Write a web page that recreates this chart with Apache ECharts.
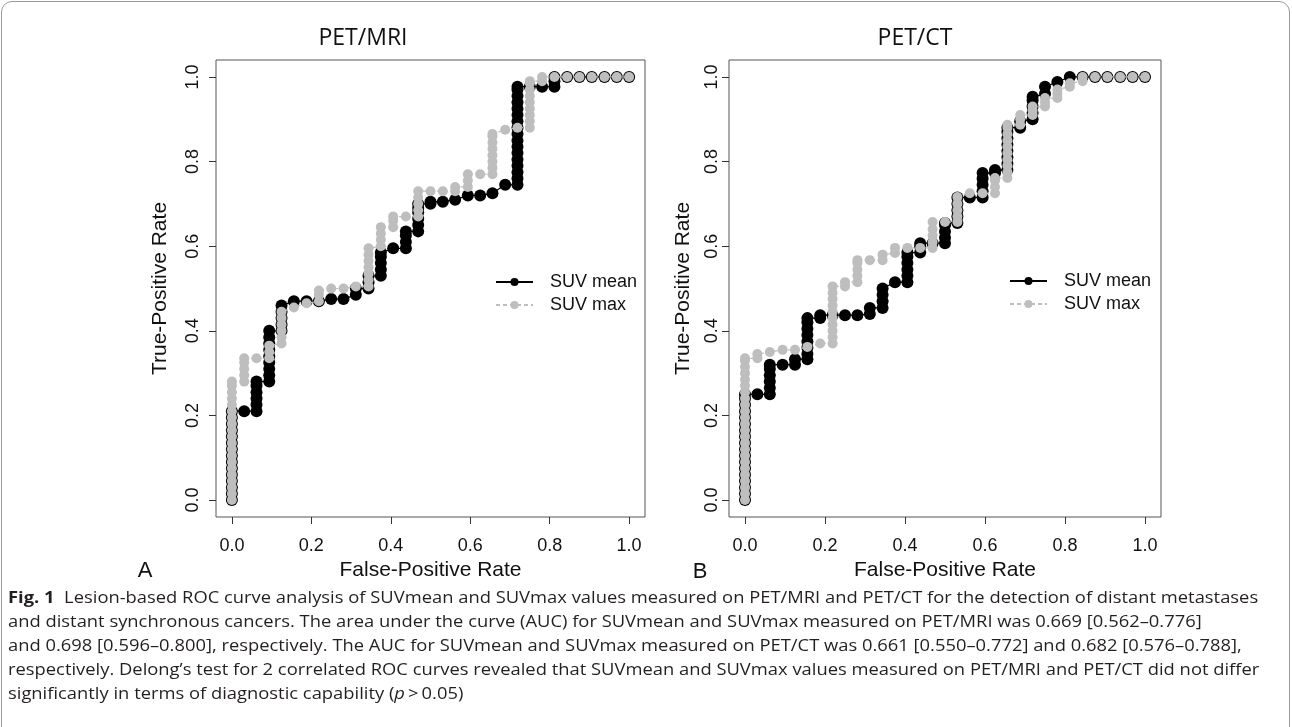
<!DOCTYPE html>
<html>
<head>
<meta charset="utf-8">
<script src="https://cdn.jsdelivr.net/npm/echarts@6.0.0/dist/echarts.min.js"></script>
<style>
html,body{margin:0;padding:0;background:#fff;}
#wrap{position:relative;width:1292px;height:727px;overflow:hidden;background:#fff;}
#chart{position:absolute;left:0;top:0;width:1292px;height:727px;}
#frame{position:absolute;left:1px;top:1px;width:1289px;height:740px;box-sizing:border-box;border:1px solid #9a9a9a;border-radius:11px;pointer-events:none;}
.cap{position:absolute;left:8px;white-space:nowrap;font-family:"Open Sans","Noto Sans",sans-serif;font-size:15.5px;line-height:24px;color:#231f20;transform-origin:0 50%;}
.cap b{font-weight:bold;}
</style>
</head>
<body>
<div id="wrap">
<div id="chart"></div>
<div id="frame"></div>
<div class="cap" id="l1" style="top:585px"><b>Fig. 1</b>&nbsp;&nbsp;Lesion-based ROC curve analysis of SUVmean and SUVmax values measured on PET/MRI and PET/CT for the detection of distant metastases</div>
<div class="cap" id="l2" style="top:609px">and distant synchronous cancers. The area under the curve (AUC) for SUVmean and SUVmax measured on PET/MRI was 0.669 [0.562–0.776]</div>
<div class="cap" id="l3" style="top:633px">and 0.698 [0.596–0.800], respectively. The AUC for SUVmean and SUVmax measured on PET/CT was 0.661 [0.550–0.772] and 0.682 [0.576–0.788],</div>
<div class="cap" id="l4" style="top:657px">respectively. Delong’s test for 2 correlated ROC curves revealed that SUVmean and SUVmax values measured on PET/MRI and PET/CT did not differ</div>
<div class="cap" id="l5" style="top:681px">significantly in terms of diagnostic capability (<i>p</i>&thinsp;&gt;&thinsp;0.05)</div>
</div>
<script>
// ---- Data: [false-positive rate, true-positive rate] ----
const tickValues = [0, 0.2, 0.4, 0.6, 0.8, 1.0];
const legendNames = ['SUV mean', 'SUV max'];
const panelTitles = ['PET/MRI', 'PET/CT'];
const panelLetters = ['A', 'B'];

const pmriMean = [
[0,0],[0,0.015],[0,0.03],[0,0.045],[0,0.06],[0,0.075],[0,0.09],[0,0.105],[0,0.12],[0,0.135],[0,0.15],[0,0.165],[0,0.18],[0,0.195],[0,0.21],
[0.031,0.21],
[0.062,0.21],[0.062,0.225],[0.062,0.24],[0.062,0.255],[0.062,0.27],[0.062,0.28],
[0.094,0.28],[0.094,0.295],[0.094,0.31],[0.094,0.325],[0.094,0.34],[0.094,0.355],[0.094,0.37],[0.094,0.385],[0.094,0.40],
[0.125,0.40],[0.125,0.415],[0.125,0.43],[0.125,0.445],[0.125,0.46],
[0.156,0.47],[0.188,0.47],[0.219,0.47],[0.25,0.475],[0.281,0.475],
[0.312,0.485],[0.312,0.50],
[0.344,0.50],[0.344,0.515],[0.344,0.53],
[0.375,0.53],[0.375,0.545],[0.375,0.56],[0.375,0.575],[0.375,0.585],
[0.406,0.595],
[0.438,0.595],[0.438,0.61],[0.438,0.625],[0.438,0.635],
[0.469,0.635],[0.469,0.65],[0.469,0.665],[0.469,0.68],[0.469,0.69],[0.469,0.70],
[0.5,0.70],[0.5,0.705],[0.531,0.705],[0.562,0.71],[0.594,0.72],[0.625,0.72],[0.656,0.725],[0.688,0.745],
[0.719,0.745],[0.719,0.76],[0.719,0.775],[0.719,0.79],[0.719,0.805],[0.719,0.82],[0.719,0.835],[0.719,0.85],[0.719,0.865],[0.719,0.88],[0.719,0.895],[0.719,0.91],[0.719,0.925],[0.719,0.94],[0.719,0.955],[0.719,0.97],[0.719,0.977],
[0.75,0.977],[0.781,0.977],
[0.812,0.977],[0.812,0.99],[0.812,1],
[0.844,1],[0.875,1],[0.906,1],[0.938,1],[0.969,1],[1,1]
];

const pmriMax = [
[0,0],[0,0.015],[0,0.03],[0,0.045],[0,0.06],[0,0.075],[0,0.09],[0,0.105],[0,0.12],[0,0.135],[0,0.15],[0,0.165],[0,0.18],[0,0.195],[0,0.21],[0,0.225],[0,0.24],[0,0.255],[0,0.27],[0,0.28],
[0.031,0.28],[0.031,0.295],[0.031,0.31],[0.031,0.325],[0.031,0.335],
[0.062,0.335],
[0.094,0.335],[0.094,0.35],[0.094,0.365],
[0.125,0.37],[0.125,0.385],[0.125,0.40],[0.125,0.415],[0.125,0.43],[0.125,0.445],
[0.156,0.455],[0.188,0.465],
[0.219,0.47],[0.219,0.485],[0.219,0.495],
[0.25,0.50],[0.281,0.50],[0.312,0.505],
[0.344,0.505],[0.344,0.52],[0.344,0.535],[0.344,0.55],[0.344,0.565],[0.344,0.58],[0.344,0.595],
[0.375,0.60],[0.375,0.615],[0.375,0.63],[0.375,0.645],
[0.406,0.645],[0.406,0.66],[0.406,0.67],
[0.438,0.67],
[0.469,0.67],[0.469,0.685],[0.469,0.70],[0.469,0.715],[0.469,0.73],
[0.5,0.73],[0.531,0.73],
[0.562,0.73],[0.562,0.74],
[0.594,0.74],[0.594,0.755],[0.594,0.77],
[0.625,0.77],
[0.656,0.77],[0.656,0.785],[0.656,0.80],[0.656,0.815],[0.656,0.83],[0.656,0.845],[0.656,0.86],[0.656,0.865],
[0.688,0.875],[0.719,0.88],
[0.75,0.88],[0.75,0.895],[0.75,0.91],[0.75,0.925],[0.75,0.94],[0.75,0.955],[0.75,0.97],[0.75,0.985],[0.75,0.99],
[0.781,0.99],[0.781,1],
[0.812,1],[0.844,1],[0.875,1],[0.906,1],[0.938,1],[0.969,1],[1,1]
];

const pctMean = [
[0,0],[0,0.015],[0,0.03],[0,0.045],[0,0.06],[0,0.075],[0,0.09],[0,0.105],[0,0.12],[0,0.135],[0,0.15],[0,0.165],[0,0.18],[0,0.195],[0,0.21],[0,0.225],[0,0.24],[0,0.25],
[0.031,0.25],
[0.062,0.25],[0.062,0.265],[0.062,0.28],[0.062,0.295],[0.062,0.31],[0.062,0.32],
[0.094,0.32],
[0.125,0.32],[0.125,0.333],
[0.156,0.333],[0.156,0.345],[0.156,0.36],[0.156,0.375],[0.156,0.39],[0.156,0.405],[0.156,0.42],[0.156,0.43],
[0.188,0.43],[0.188,0.437],
[0.219,0.437],[0.25,0.437],[0.281,0.437],
[0.312,0.44],[0.312,0.454],
[0.344,0.454],[0.344,0.47],[0.344,0.485],[0.344,0.50],
[0.375,0.515],
[0.406,0.515],[0.406,0.53],[0.406,0.545],[0.406,0.56],[0.406,0.575],[0.406,0.585],
[0.438,0.585],[0.438,0.60],[0.438,0.607],
[0.469,0.607],
[0.5,0.607],[0.5,0.62],[0.5,0.635],[0.5,0.65],[0.5,0.655],
[0.531,0.655],[0.531,0.67],[0.531,0.685],[0.531,0.70],[0.531,0.715],
[0.562,0.715],
[0.594,0.715],[0.594,0.73],[0.594,0.745],[0.594,0.76],[0.594,0.773],
[0.625,0.773],[0.625,0.78],
[0.656,0.78],[0.656,0.795],[0.656,0.81],[0.656,0.825],[0.656,0.84],[0.656,0.855],[0.656,0.87],[0.656,0.88],
[0.688,0.88],[0.688,0.895],
[0.719,0.90],[0.719,0.915],[0.719,0.93],[0.719,0.945],[0.719,0.953],
[0.75,0.96],[0.75,0.977],
[0.781,0.988],
[0.812,1],[0.844,1],[0.875,1],[0.906,1],[0.938,1],[0.969,1],[1,1]
];

const pctMax = [
[0,0],[0,0.015],[0,0.03],[0,0.045],[0,0.06],[0,0.075],[0,0.09],[0,0.105],[0,0.12],[0,0.135],[0,0.15],[0,0.165],[0,0.18],[0,0.195],[0,0.21],[0,0.225],[0,0.24],[0,0.255],[0,0.27],[0,0.285],[0,0.30],[0,0.315],[0,0.33],[0,0.335],
[0.031,0.335],[0.031,0.345],
[0.062,0.35],[0.094,0.355],[0.125,0.355],[0.156,0.362],[0.188,0.37],
[0.219,0.37],[0.219,0.385],[0.219,0.40],[0.219,0.415],[0.219,0.43],[0.219,0.445],[0.219,0.46],[0.219,0.475],[0.219,0.49],[0.219,0.505],
[0.25,0.505],[0.25,0.515],
[0.281,0.515],[0.281,0.53],[0.281,0.545],[0.281,0.56],[0.281,0.567],
[0.312,0.567],
[0.344,0.567],[0.344,0.58],
[0.375,0.584],[0.375,0.596],
[0.406,0.596],[0.438,0.596],
[0.469,0.596],[0.469,0.61],[0.469,0.625],[0.469,0.64],[0.469,0.657],
[0.5,0.657],
[0.531,0.657],[0.531,0.67],[0.531,0.685],[0.531,0.70],[0.531,0.716],
[0.562,0.725],[0.594,0.725],
[0.625,0.725],[0.625,0.74],[0.625,0.755],[0.625,0.761],
[0.656,0.761],[0.656,0.775],[0.656,0.79],[0.656,0.805],[0.656,0.82],[0.656,0.835],[0.656,0.85],[0.656,0.865],[0.656,0.88],[0.656,0.887],
[0.688,0.887],[0.688,0.90],[0.688,0.91],
[0.719,0.91],[0.719,0.92],[0.719,0.93],
[0.75,0.93],[0.75,0.94],[0.75,0.95],
[0.781,0.95],[0.781,0.96],[0.781,0.97],
[0.812,0.977],[0.812,0.985],
[0.844,0.99],[0.844,1],
[0.875,1],[0.906,1],[0.938,1],[0.969,1],[1,1]
];

// ---- Chart ----
const AX_FONT = 'Liberation Sans, Arial, Helvetica, sans-serif';
const chart = echarts.init(document.getElementById('chart'), null, {renderer: 'canvas'});

function xAx(i) {
  return {
    gridIndex: i, type: 'value', min: -0.04, max: 1.04, position: 'bottom',
    axisLine: {show: false, onZero: false}, splitLine: {show: false},
    axisTick: {show: true, length: 7, inside: false, customValues: tickValues, lineStyle: {color: '#333', width: 1}},
    axisLabel: {customValues: tickValues, formatter: v => v.toFixed(1), fontFamily: AX_FONT, fontSize: 18, color: '#111', margin: 20},
    name: 'False-Positive Rate', nameLocation: 'middle', nameGap: 42,
    nameTextStyle: {fontFamily: AX_FONT, fontSize: 21, color: '#111'}
  };
}
function yAx(i, margin, gap) {
  return {
    gridIndex: i, type: 'value', min: -0.04, max: 1.04, position: 'left',
    axisLine: {show: false, onZero: false}, splitLine: {show: false},
    axisTick: {show: true, length: 7, inside: false, customValues: tickValues, lineStyle: {color: '#333', width: 1}},
    axisLabel: {customValues: tickValues, formatter: v => v.toFixed(1), rotate: 90, fontFamily: AX_FONT, fontSize: 18, color: '#111', margin: margin},
    name: 'True-Positive Rate', nameLocation: 'middle', nameGap: gap, nameRotate: 90,
    nameTextStyle: {fontFamily: AX_FONT, fontSize: 21, color: '#111'}
  };
}
function meanSeries(i, data) {
  return {
    type: 'line', name: legendNames[0], xAxisIndex: i, yAxisIndex: i, data: data,
    symbol: 'circle', symbolSize: 12, showAllSymbol: true, showSymbol: true,
    itemStyle: {color: '#000'}, lineStyle: {color: '#000', width: 1.3, type: 'solid'},
    z: 2, silent: true, animation: false
  };
}
function maxSeries(i, data) {
  return {
    type: 'line', name: legendNames[1], xAxisIndex: i, yAxisIndex: i, data: data,
    symbol: 'circle', symbolSize: 10, showAllSymbol: true, showSymbol: true,
    itemStyle: {color: '#bebebe'}, lineStyle: {color: '#bebebe', width: 1.2, type: [4, 3]},
    z: 3, silent: true, animation: false
  };
}
function legendAt(left, top) {
  return {
    left: left, top: top, orient: 'vertical', data: legendNames, selectedMode: false,
    itemWidth: 37, itemHeight: 10, itemGap: 5,
    textStyle: {fontFamily: AX_FONT, fontSize: 18, color: '#111', padding: [0, 0, 0, 12]}
  };
}

const option = {
  animation: false,
  backgroundColor: 'transparent',
  grid: [
    {left: 216, top: 60, width: 429, height: 457, show: true, borderColor: '#555', borderWidth: 1, backgroundColor: 'transparent'},
    {left: 729, top: 60, width: 432, height: 457, show: true, borderColor: '#555', borderWidth: 1, backgroundColor: 'transparent'}
  ],
  xAxis: [xAx(0), xAx(1)],
  yAxis: [yAx(0, 14, 45), yAx(1, 8, 35)],
  legend: [legendAt(490, 268), legendAt(1004, 267)],
  series: [meanSeries(0, pmriMean), maxSeries(0, pmriMax), meanSeries(1, pctMean), maxSeries(1, pctMax)],
  graphic: [
    {type: 'text', x: 363, y: 38, style: {text: panelTitles[0], align: 'center', verticalAlign: 'middle', fontFamily: 'Open Sans, Noto Sans, sans-serif', fontSize: 23, fill: '#111'}},
    {type: 'text', x: 915, y: 38, style: {text: panelTitles[1], align: 'center', verticalAlign: 'middle', fontFamily: 'Open Sans, Noto Sans, sans-serif', fontSize: 23, fill: '#111'}},
    {type: 'text', x: 145, y: 571, style: {text: panelLetters[0], align: 'center', verticalAlign: 'middle', fontFamily: AX_FONT, fontSize: 22, fill: '#111'}},
    {type: 'text', x: 700, y: 572, style: {text: panelLetters[1], align: 'center', verticalAlign: 'middle', fontFamily: AX_FONT, fontSize: 22, fill: '#111'}}
  ]
};
chart.setOption(option);

// ---- fit caption lines to the reference line lengths (uniform horizontal scale) ----
(function fitCaption() {
  const targets = {l1: 1257, l2: 1191, l3: 1229, l4: 1252};
  let sum = 0, n = 0;
  for (const id in targets) {
    const el = document.getElementById(id);
    const w = el.getBoundingClientRect().width;
    if (w > 0) { sum += targets[id] / w; n++; }
  }
  const s = n ? sum / n : 1;
  ['l1','l2','l3','l4','l5'].forEach(id => {
    document.getElementById(id).style.transform = 'scaleX(' + s.toFixed(4) + ')';
  });
})();
</script>
</body>
</html>
